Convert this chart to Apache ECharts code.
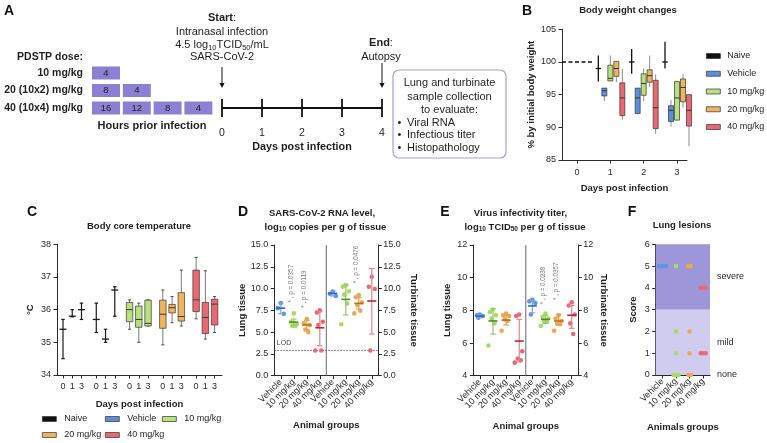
<!DOCTYPE html>
<html>
<head>
<meta charset="utf-8">
<script src="https://cdn.jsdelivr.net/npm/echarts@6.0.0/dist/echarts.min.js"></script>
<style>html,body{margin:0;padding:0;background:#fff;}#chart{width:767px;height:443px;}</style>
</head>
<body>
<div id="chart"></div>
<script>
const FONT = "'Liberation Sans', Arial, Helvetica, sans-serif";
const INK = '#1f1f1f';

// ---------- Panel A (schematic)
const doseLabels = ['10 mg/kg', '20 (10x2) mg/kg', '40 (10x4) mg/kg'];
const doseHours = [[4], [8, 4], [16, 12, 8, 4]];
const timelineDays = [0, 1, 2, 3, 4];
const sampleHeader = ['Lung and turbinate', 'sample collection', 'to evaluate:'];
const sampleItems = ['Viral RNA', 'Infectious titer', 'Histopathology'];

// ---------- Panel B: body weight, [min, q1, median, q3, max]
const groupNames = ['Naive', 'Vehicle', '10 mg/kg', '20 mg/kg', '40 mg/kg'];
const bwDayTicks = [0, 1, 2, 3];
const bwDays = [1, 2, 3];
const bwBaselineDay = 0;
const bwBaseline = 100;
const bwNaive   = [[97, 99, 99, 99, 101], [98.2, 100, 100, 100, 102], [99, 100, 100, 100, 103.1]];
const bwVehicle = [[94, 94.8, 95.6, 96, 96], [92.1, 92.1, 94.5, 96, 96], [90.1, 90.9, 92.6, 93.3, 94.2]];
const bw10      = [[97.1, 97.1, 97.5, 99.5, 101], [94, 94.9, 96.7, 98.2, 99], [91.1, 91.1, 94.5, 97, 97]];
const bw20      = [[96.9, 97.8, 99, 100.1, 100.1], [96.2, 96.9, 97.9, 98.8, 101], [93, 93.9, 96.1, 97.4, 98.2]];
const bw40      = [[91.1, 91.8, 94.5, 96.8, 99], [89, 89.8, 93, 97.2, 98.1], [87.1, 90.2, 92.6, 95, 95]];

// ---------- Panel C: body core temperature, [min, q1, median, q3, max] for days 0,1,3
const ctDays = ['0', '1', '3'];
const ctNaive   = [[34.5, 35.4, 35.4, 35.4, 35.7], [35.78, 35.8, 35.8, 35.82, 36.0], [35.7, 36.0, 36.0, 36.0, 36.2]];
const ctVehicle = [[35.3, 35.7, 35.7, 35.7, 36.2], [35.0, 35.1, 35.1, 35.1, 35.4], [35.8, 36.6, 36.6, 36.6, 36.7]];
const ct10      = [[35.4, 35.63, 36.0, 36.22, 36.3], [35.0, 35.46, 35.7, 36.11, 36.2], [35.5, 35.5, 35.58, 36.29, 36.3]];
const ct20      = [[34.92, 35.43, 35.86, 36.29, 36.6], [35.6, 35.9, 36.06, 36.16, 36.4], [35.5, 35.65, 35.79, 36.52, 37.21]];
const ct40      = [[35.72, 35.94, 36.3, 37.21, 37.6], [35.1, 35.27, 35.76, 36.22, 37.19], [35.3, 35.53, 36.17, 36.32, 36.4]];

// ---------- Panel D: SARS-CoV-2 RNA (lung: first 4, turbinate: last 4)
const tissueCats = ['Vehicle', '10 mg/kg', '20 mg/kg', '40 mg/kg', 'Vehicle', '10 mg/kg', '20 mg/kg', '40 mg/kg'];
const rnaPoints = [[8.35, 7.75, 7.1], [7.15, 6.2, 5.9, 5.7, 5.7], [6.5, 6.0, 5.8, 5.3, 5.0], [7.5, 7.25, 6.2, 5.8, 2.9, 2.9],
                   [9.65, 9.4, 9.15], [10.4, 10.2, 9.7, 9.3, 8.3, 5.9], [9.25, 9.0, 8.4, 8.1, 7.45, 7.15], [11.35, 10.2, 9.95, 2.9]];
const rnaMean = [7.75, 6.15, 5.82, 5.5, 9.45, 8.76, 8.3, 8.57];
const rnaLow  = [7.12, 5.8, 5.3, 3.44, 9.15, 6.97, 7.65, 4.78];
const rnaHigh = [8.38, 6.5, 6.35, 7.35, 9.7, 10.4, 8.95, 12.3];
const rnaLOD = 2.9;
const rnaSigCats = [1, 2, 6];
const rnaSigY = [8.4, 7.8, 10.6];
const rnaSigText = ['* , p = 0.0357', '* , p = 0.0119', '* , p = 0.0476'];

// ---------- Panel E: virus infectivity titer
const titerPoints = [[7.75, 7.7, 7.65, 7.55], [8.05, 7.9, 7.7, 7.5, 7.2, 5.85], [7.8, 7.7, 7.65, 7.45, 7.35, 6.75], [7.75, 7.65, 5.5, 5.05, 4.95, 4.8],
                     [8.65, 8.55, 8.45, 7.75], [7.8, 7.6, 7.5, 7.35, 7.3, 7.05], [7.7, 7.5, 7.35, 7.2, 7.15, 6.75], [8.5, 8.3, 7.75, 7.2, 6.55]];
const titerMean = [7.65, 7.35, 7.4, 6.12, 8.27, 7.45, 7.35, 7.7];
const titerLow  = [7.55, 6.55, 7.1, 4.85, 7.85, 7.2, 7.1, 6.9];
const titerHigh = [7.75, 8.1, 7.7, 7.45, 8.6, 7.7, 7.75, 8.3];
const titerSigCats = [5, 6];
const titerSigY = [8.37, 8.63];
const titerSigText = ['* , p = 0.0238', '* , p = 0.0357'];

// ---------- Panel F: lung lesion score
const lesionCats = ['Vehicle', '10 mg/kg', '20 mg/kg', '40 mg/kg'];
const lesionScores = [[5, 5, 5, 5], [5, 2, 1, 0, 0, 0], [5, 5, 2, 1, 0, 0], [4, 4, 4, 1, 1, 1]];
const lesionBands = [[3, 6], [0, 3]];
const lesionBandTicks = [0, 1.5, 4.5];
const lesionBandLabels = ['none', 'mild', 'severe'];

// ---------- styles
const fillColors = ['#111111', '#5b8fd9', '#b8e07d', '#f1b45e', '#ea6870'];
const dotColors  = ['#5b95e4', '#a9da63', '#f2a74d', '#eb6972'];
const meanColors = ['#2f67c0', '#4c8f22', '#b5711d', '#b3283a'];
const errColors  = ['#7aa6e6', '#98c766', '#dca25e', '#e0858e'];
const bandColors = ['#9d96d9', '#d0ccef'];
const BW_OFF = 6;
const CT_STEP = 3.6;
const JIT = [0, -3, 3, -1.5, 1.5, -4.5, 4.5];

function boxRenderer(offPx, st) {
  return function (params, api) {
    const x = api.value(0);
    const c = (v) => api.coord([x, v]);
    const pMin = c(api.value(1)), pQ1 = c(api.value(2)), pMed = c(api.value(3)), pQ3 = c(api.value(4)), pMax = c(api.value(5));
    const cx = pMin[0] + offPx;
    const ch = [];
    const ws = { stroke: st.whisker, lineWidth: st.wl };
    ch.push({ type: 'line', shape: { x1: cx, y1: pMax[1], x2: cx, y2: pMin[1] }, style: ws });
    if (st.cap) {
      ch.push({ type: 'line', shape: { x1: cx - st.cap / 2, y1: pMax[1], x2: cx + st.cap / 2, y2: pMax[1] }, style: { stroke: st.capColor || st.whisker, lineWidth: st.wl } });
      ch.push({ type: 'line', shape: { x1: cx - st.cap / 2, y1: pMin[1], x2: cx + st.cap / 2, y2: pMin[1] }, style: { stroke: st.capColor || st.whisker, lineWidth: st.wl } });
    }
    if (st.box) {
      ch.push({ type: 'rect', shape: { x: cx - st.bw / 2, y: pQ3[1], width: st.bw, height: Math.max(pQ1[1] - pQ3[1], 0.6) },
        style: { fill: st.fill, stroke: st.stroke, lineWidth: 0.7 } });
    }
    ch.push({ type: 'line', shape: { x1: cx - st.mw / 2, y1: pMed[1], x2: cx + st.mw / 2, y2: pMed[1] }, style: { stroke: st.median, lineWidth: st.ml } });
    return { type: 'group', children: ch };
  };
}

function pointsRenderer() {
  return function (params, api) {
    const c = api.value(0), v = api.value(1), k = api.value(2);
    const p = api.coord([c, v]);
    return { type: 'circle', shape: { cx: p[0] + JIT[k % JIT.length], cy: p[1], r: 2.3 }, style: { fill: dotColors[c % 4] } };
  };
}

function meanErrRenderer() {
  return function (params, api) {
    const c = api.value(0);
    const pm = api.coord([c, api.value(1)]), pl = api.coord([c, api.value(2)]), ph = api.coord([c, api.value(3)]);
    const cx = pm[0];
    const es = { stroke: errColors[c % 4], lineWidth: 1.2 };
    return { type: 'group', children: [
      { type: 'line', shape: { x1: cx, y1: ph[1], x2: cx, y2: pl[1] }, style: es },
      { type: 'line', shape: { x1: cx - 2.8, y1: ph[1], x2: cx + 2.8, y2: ph[1] }, style: es },
      { type: 'line', shape: { x1: cx - 2.8, y1: pl[1], x2: cx + 2.8, y2: pl[1] }, style: es },
      { type: 'line', shape: { x1: cx - 4.5, y1: pm[1], x2: cx + 4.5, y2: pm[1] }, style: { stroke: meanColors[c % 4], lineWidth: 1.6 } }
    ] };
  };
}

function sigRenderer(texts) {
  return function (params, api) {
    const p = api.coord([api.value(0), api.value(1)]);
    return { type: 'text', x: p[0] - 2.5, y: p[1], rotation: Math.PI / 2,
      style: { text: texts[params.dataIndex], fontSize: 6.3, fontFamily: FONT, fill: '#7c7c7c',
        align: 'left', textAlign: 'left', verticalAlign: 'middle', textVerticalAlign: 'middle' } };
  };
}

function dividerRenderer(params, api) {
  const cs = params.coordSys;
  const x = cs.x + cs.width / 2;
  return { type: 'line', shape: { x1: x, y1: cs.y, x2: x, y2: cs.y + cs.height }, style: { stroke: '#6a6a6a', lineWidth: 1 } };
}

// ---------- series
const series = [];

series.push({ type: 'custom', xAxisIndex: 0, yAxisIndex: 0, silent: true, data: [[bwBaselineDay, bwBaseline]],
  renderItem: (p, api) => {
    const a = api.coord([api.value(0) - 0.45, api.value(1)]), b = api.coord([api.value(0) + 0.45, api.value(1)]);
    return { type: 'line', shape: { x1: a[0], y1: a[1], x2: b[0], y2: b[1] }, style: { stroke: '#111', lineWidth: 1.3, lineDash: [4, 2.5] } };
  } });

const naiveB = { whisker: '#111', wl: 1.3, mw: 5.5, median: '#111', ml: 1.3, box: false };
const boxB = { whisker: '#8e8e8e', wl: 1, bw: 5, stroke: '#333', mw: 5, median: '#333', ml: 1, box: true };
[bwNaive, bwVehicle, bw10, bw20, bw40].forEach((set, gi) => {
  series.push({ type: 'custom', name: groupNames[gi], xAxisIndex: 0, yAxisIndex: 0, itemStyle: { color: fillColors[gi] },
    data: set.map((s, k) => [bwDays[k]].concat(s)), encode: { x: 0, y: [1, 2, 3, 4, 5] },
    renderItem: boxRenderer((gi - 2) * BW_OFF, gi === 0 ? naiveB : Object.assign({}, boxB, { fill: fillColors[gi] })) });
});

const naiveC = { whisker: '#1a1a1a', wl: 1.2, cap: 3.5, mw: 7, median: '#1a1a1a', ml: 1.3, box: false };
const boxC = { whisker: '#7a7a7a', capColor: '#444', wl: 1, cap: 3, bw: 6.5, stroke: '#3a3a3a', mw: 6.5, median: '#3a3a3a', ml: 1, box: true };
[ctNaive, ctVehicle, ct10, ct20, ct40].forEach((set, gi) => {
  series.push({ type: 'custom', name: groupNames[gi], xAxisIndex: 1, yAxisIndex: 1, itemStyle: { color: fillColors[gi] },
    data: set.map((s, k) => [gi * CT_STEP + k].concat(s)), encode: { x: 0, y: [1, 2, 3, 4, 5] },
    renderItem: boxRenderer(0, gi < 2 ? naiveC : Object.assign({}, boxC, { fill: fillColors[gi] })) });
});

// D
series.push({ type: 'custom', xAxisIndex: 2, yAxisIndex: 2, silent: true, data: [[0, 0]], renderItem: dividerRenderer });
series.push({ type: 'custom', xAxisIndex: 2, yAxisIndex: 2, silent: true, data: [[0, rnaLOD]],
  renderItem: (params, api) => {
    const cs = params.coordSys; const y = api.coord([0, api.value(1)])[1];
    return { type: 'group', children: [
      { type: 'line', shape: { x1: cs.x, y1: y, x2: cs.x + cs.width, y2: y }, style: { stroke: '#555', lineWidth: 0.9, lineDash: [1.5, 1.5] } },
      { type: 'text', x: cs.x + 2.5, y: y - 4, style: { text: 'LOD', fontSize: 7, fontFamily: FONT, fill: '#444', align: 'left', textAlign: 'left', verticalAlign: 'bottom', textVerticalAlign: 'bottom' } }
    ] };
  } });
series.push({ type: 'custom', xAxisIndex: 2, yAxisIndex: 2, data: rnaPoints.flatMap((arr, c) => arr.map((v, k) => [c, v, k])), encode: { x: 0, y: 1 }, renderItem: pointsRenderer() });
series.push({ type: 'custom', xAxisIndex: 2, yAxisIndex: 2, data: rnaMean.map((m, c) => [c, m, rnaLow[c], rnaHigh[c]]), encode: { x: 0, y: [1, 2, 3] }, renderItem: meanErrRenderer() });
series.push({ type: 'custom', xAxisIndex: 2, yAxisIndex: 2, silent: true, data: rnaSigCats.map((c, i) => [c, rnaSigY[i]]), renderItem: sigRenderer(rnaSigText) });

// E
series.push({ type: 'custom', xAxisIndex: 3, yAxisIndex: 4, silent: true, data: [[0, 4]], renderItem: dividerRenderer });
series.push({ type: 'custom', xAxisIndex: 3, yAxisIndex: 4, data: titerPoints.flatMap((arr, c) => arr.map((v, k) => [c, v, k])), encode: { x: 0, y: 1 }, renderItem: pointsRenderer() });
series.push({ type: 'custom', xAxisIndex: 3, yAxisIndex: 4, data: titerMean.map((m, c) => [c, m, titerLow[c], titerHigh[c]]), encode: { x: 0, y: [1, 2, 3] }, renderItem: meanErrRenderer() });
series.push({ type: 'custom', xAxisIndex: 3, yAxisIndex: 4, silent: true, data: titerSigCats.map((c, i) => [c, titerSigY[i]]), renderItem: sigRenderer(titerSigText) });

// F
series.push({ type: 'custom', xAxisIndex: 4, yAxisIndex: 6, silent: true, data: lesionBands.map(b => [b[0], b[1]]),
  renderItem: (params, api) => {
    const cs = params.coordSys;
    const top = api.coord([0, api.value(1)])[1], bot = api.coord([0, api.value(0)])[1];
    return { type: 'rect', shape: { x: cs.x, y: top, width: cs.width, height: bot - top }, style: { fill: bandColors[params.dataIndex] } };
  } });
const lesionData = [];
lesionScores.forEach((arr, c) => {
  const counts = {}; arr.forEach(v => { counts[v] = (counts[v] || 0) + 1; });
  const seen = {};
  arr.forEach(v => { const k = seen[v] || 0; seen[v] = k + 1; lesionData.push([c, v, k, counts[v]]); });
});
series.push({ type: 'custom', xAxisIndex: 4, yAxisIndex: 6, data: lesionData, encode: { x: 0, y: 1 },
  renderItem: (params, api) => {
    const c = api.value(0), k = api.value(2), n = api.value(3);
    const p = api.coord([c, api.value(1)]);
    return { type: 'circle', shape: { cx: p[0] + (k - (n - 1) / 2) * 2.4, cy: p[1], r: 2.3 }, style: { fill: dotColors[c] } };
  } });

// ---------- axes
const aLine = { show: true, onZero: false, lineStyle: { color: '#2a2a2a', width: 1 } };
const aTick = { show: true, length: 3.5, lineStyle: { color: '#2a2a2a', width: 1 } };
const aLabel = { color: '#2a2a2a', fontSize: 9, fontFamily: FONT };
const nameStyle = { color: INK, fontSize: 9.5, fontWeight: 'bold', fontFamily: FONT };
const noSplit = { show: false };
const ctTickVals = [];
for (let g = 0; g < 5; g++) for (let k = 0; k < 3; k++) ctTickVals.push(+(g * CT_STEP + k).toFixed(2));
const idx8 = [0, 1, 2, 3, 4, 5, 6, 7], idx4 = [0, 1, 2, 3];

const xAxis = [
  { type: 'value', gridIndex: 0, min: -0.45, max: 3.3, axisLine: aLine, splitLine: noSplit,
    axisTick: Object.assign({}, aTick, { customValues: bwDayTicks }),
    axisLabel: Object.assign({}, aLabel, { customValues: bwDayTicks, margin: 8 }),
    name: 'Days post infection', nameLocation: 'middle', nameGap: 23, nameTextStyle: nameStyle },
  { type: 'value', gridIndex: 1, min: -0.65, max: 17.2, axisLine: aLine, splitLine: noSplit,
    axisTick: Object.assign({}, aTick, { customValues: ctTickVals }),
    axisLabel: Object.assign({}, aLabel, { customValues: ctTickVals, margin: 7,
      formatter: (v) => ctDays[Math.round(v - Math.floor((v + 0.5) / CT_STEP) * CT_STEP)] }),
    name: 'Days post infection', nameLocation: 'middle', nameGap: 24, nameTextStyle: nameStyle },
  { type: 'value', gridIndex: 2, min: -0.5, max: 7.5, axisLine: aLine, splitLine: noSplit,
    axisTick: Object.assign({}, aTick, { customValues: idx8 }),
    axisLabel: Object.assign({}, aLabel, { customValues: idx8, rotate: 45, margin: 5, formatter: (v) => tissueCats[Math.round(v)] }),
    name: 'Animal groups', nameLocation: 'middle', nameGap: 45, nameTextStyle: nameStyle },
  { type: 'value', gridIndex: 3, min: -0.5, max: 7.5, axisLine: aLine, splitLine: noSplit,
    axisTick: Object.assign({}, aTick, { customValues: idx8 }),
    axisLabel: Object.assign({}, aLabel, { customValues: idx8, rotate: 45, margin: 5, formatter: (v) => tissueCats[Math.round(v)] }),
    name: 'Animal groups', nameLocation: 'middle', nameGap: 46, nameTextStyle: nameStyle },
  { type: 'value', gridIndex: 4, min: -0.5, max: 3.5, axisLine: aLine, splitLine: noSplit,
    axisTick: Object.assign({}, aTick, { customValues: idx4 }),
    axisLabel: Object.assign({}, aLabel, { customValues: idx4, rotate: 45, margin: 5, formatter: (v) => lesionCats[Math.round(v)] }),
    name: 'Animals groups', nameLocation: 'middle', nameGap: 47, nameTextStyle: nameStyle }
];

function yAx(o) {
  return Object.assign({ type: 'value', axisLine: aLine, axisTick: aTick, splitLine: noSplit,
    axisLabel: Object.assign({}, aLabel, { margin: 6 }), nameLocation: 'middle', nameTextStyle: nameStyle }, o);
}
const yAxis = [
  yAx({ gridIndex: 0, min: 85, max: 105, interval: 5, name: '% by initial body weight', nameGap: 26 }),
  yAx({ gridIndex: 1, min: 34, max: 38, interval: 1, name: '°C', nameGap: 22 }),
  yAx({ gridIndex: 2, min: 0, max: 15, interval: 2.5, name: 'Lung tissue', nameGap: 27,
    axisLabel: Object.assign({}, aLabel, { margin: 6, formatter: (v) => v.toFixed(1) }) }),
  yAx({ gridIndex: 2, position: 'right', min: 0, max: 15, interval: 2.5, name: 'Turbinate tissue', nameGap: 30, nameRotate: -90,
    axisLabel: Object.assign({}, aLabel, { margin: 5, formatter: (v) => v.toFixed(1) }) }),
  yAx({ gridIndex: 3, min: 4, max: 12, interval: 2, name: 'Lung tissue', nameGap: 21 }),
  yAx({ gridIndex: 3, position: 'right', min: 4, max: 12, interval: 2, name: 'Turbinate tissue', nameGap: 20, nameRotate: -90,
    axisLabel: Object.assign({}, aLabel, { margin: 5 }) }),
  yAx({ gridIndex: 4, min: 0, max: 6, interval: 1, name: 'Score', nameGap: 17 }),
  yAx({ gridIndex: 4, position: 'right', min: 0, max: 6, axisLine: { show: false, onZero: false }, axisTick: { show: false },
    axisLabel: Object.assign({}, aLabel, { margin: 7, customValues: lesionBandTicks, formatter: (v) => lesionBandLabels[lesionBandTicks.indexOf(v)] }) })
];

const gridBase = { containLabel: false, outerBoundsMode: 'none', show: false };
const grid = [
  Object.assign({ left: 562, top: 29.3, width: 125, height: 130.7 }, gridBase),
  Object.assign({ left: 57, top: 244.3, width: 165, height: 130.7 }, gridBase),
  Object.assign({ left: 274.3, top: 245, width: 104, height: 130.7 }, gridBase),
  Object.assign({ left: 473.3, top: 245, width: 105, height: 130.7 }, gridBase),
  Object.assign({ left: 655.7, top: 244.3, width: 54.3, height: 130.7 }, gridBase)
];

// ---------- legends
const legBase = { icon: 'rect', itemWidth: 14, itemHeight: 5, selectedMode: false,
  itemStyle: { borderColor: '#333', borderWidth: 0.7 }, textStyle: { fontSize: 9, fontFamily: FONT, color: INK, lineHeight: 11, padding: [0, 0, 0, 2] }, padding: 0 };
const legend = [
  Object.assign({}, legBase, { orient: 'vertical', left: 706, top: 50.5, itemGap: 6.75, data: groupNames })
];
[[42, 413.5, 0], [105, 413.5, 1], [162, 413.5, 2], [42, 429.5, 3], [105, 429.5, 4]].forEach(([l, t, gi]) => {
  legend.push(Object.assign({}, legBase, { left: l, top: t, data: [groupNames[gi]],
    textStyle: Object.assign({}, legBase.textStyle, { padding: [0, 0, 0, 3] }) }));
});

// ---------- graphic (panel A schematic, panel letters, titles)
function txt(x, y, text, o) {
  o = o || {};
  const st = { text, fontFamily: FONT, fontSize: o.fs || 10, fontWeight: o.fw || 'normal', fill: o.fill || INK,
    align: o.align || 'center', textAlign: o.align || 'center', verticalAlign: 'middle', textVerticalAlign: 'middle' };
  if (o.rich) st.rich = o.rich;
  return { type: 'text', x, y, silent: true, z: 20, style: st };
}
const G = [];
['A', 'B', 'C', 'D', 'E', 'F'].forEach((L, i) => {
  const pos = [[9, 11.5], [527, 11.5], [32, 212], [243, 212], [445, 212], [632, 212]][i];
  G.push(txt(pos[0], pos[1], L, { fs: 14, fw: 'bold', fill: '#111' }));
});
const subRich = (fs, lh, sfs, bold) => ({
  n: { fontSize: fs, fontWeight: bold ? 'bold' : 'normal', fontFamily: FONT, fill: INK, lineHeight: lh, verticalAlign: 'middle' },
  s: { fontSize: sfs, fontWeight: bold ? 'bold' : 'normal', fontFamily: FONT, fill: INK, lineHeight: sfs + 0.5, verticalAlign: 'bottom' },
  b: { fontSize: fs, fontWeight: 'bold', fontFamily: FONT, fill: INK, lineHeight: lh, verticalAlign: 'middle' }
});
// titles
G.push(txt(628, 10, 'Body weight changes', { fs: 9.5, fw: 'bold' }));
G.push(txt(139, 226, 'Body core temperature', { fs: 9.5, fw: 'bold' }));
G.push(txt(322, 213, 'SARS-CoV-2 RNA level,', { fs: 9.5, fw: 'bold' }));
G.push(txt(325.5, 227, '{n|log}{s|10}{n| copies per g of tissue}', { rich: subRich(9.5, 12, 6.5, true) }));
G.push(txt(520.5, 213, 'Virus infectivity titer,', { fs: 9.5, fw: 'bold' }));
G.push(txt(525, 227, '{n|log}{s|10}{n| TCID}{s|50}{n| per g of tissue}', { rich: subRich(9.5, 12, 6.5, true) }));
G.push(txt(682, 225, 'Lung lesions', { fs: 9.5, fw: 'bold' }));

// panel A
const purple = '#8b80d3';
const cellX0 = 92, cellW = 28, cellGap = 2.8, cellH = 13, rowY = [73, 90.5, 108];
G.push(txt(83, 57, 'PDSTP dose:', { fs: 10.5, fw: 'bold', align: 'right' }));
doseLabels.forEach((lab, r) => {
  G.push(txt(83, rowY[r], lab, { fs: 10.5, fw: 'bold', align: 'right' }));
  doseHours[r].forEach((h, k) => {
    const x = cellX0 + k * (cellW + cellGap);
    G.push({ type: 'rect', silent: true, z: 10, shape: { x, y: rowY[r] - cellH / 2, width: cellW, height: cellH }, style: { fill: purple } });
    G.push(txt(x + cellW / 2, rowY[r], String(h), { fs: 9.5, fill: '#222' }));
  });
});
G.push(txt(152, 126, 'Hours prior infection', { fs: 11, fw: 'bold' }));
const tlX0 = 222, tlStep = 40, tlY = 108;
G.push({ type: 'line', silent: true, z: 10, shape: { x1: tlX0, y1: tlY, x2: tlX0 + tlStep * (timelineDays.length - 1), y2: tlY }, style: { stroke: '#111', lineWidth: 1.8 } });
timelineDays.forEach((d, i) => {
  const x = tlX0 + tlStep * i;
  G.push({ type: 'line', silent: true, z: 10, shape: { x1: x, y1: tlY - 9, x2: x, y2: tlY + 9 }, style: { stroke: '#111', lineWidth: 1.8 } });
  G.push(txt(x, 133, String(d), { fs: 10.5 }));
});
G.push(txt(302, 147, 'Days post infection', { fs: 10.8, fw: 'bold' }));
function arrow(x, y1, y2) {
  G.push({ type: 'line', silent: true, z: 10, shape: { x1: x, y1, x2: x, y2: y2 - 4 }, style: { stroke: '#111', lineWidth: 1 } });
  G.push({ type: 'polygon', silent: true, z: 10, shape: { points: [[x - 2.6, y2 - 5], [x + 2.6, y2 - 5], [x, y2]] }, style: { fill: '#111' } });
}
arrow(tlX0, 67, 88);
arrow(tlX0 + tlStep * 4, 63, 88);
G.push(txt(222, 18, '{b|Start}{n|:}', { rich: subRich(11, 13, 7.5, false) }));
G.push(txt(222, 32, 'Intranasal infection', { fs: 11 }));
G.push(txt(222, 45, '{n|4.5 log}{s|10}{n|TCID}{s|50}{n|/mL}', { rich: subRich(11, 13, 7.5, false) }));
G.push(txt(222, 57, 'SARS-CoV-2', { fs: 11 }));
G.push(txt(381, 43, '{b|End}{n|:}', { rich: subRich(11, 13, 7.5, false) }));
G.push(txt(381, 57, 'Autopsy', { fs: 11 }));
G.push({ type: 'rect', silent: true, z: 10, shape: { x: 393, y: 70, width: 113, height: 88, r: 6 }, style: { fill: 'none', stroke: '#a89fe2', lineWidth: 1.2 } });
sampleHeader.forEach((s, i) => G.push(txt(449.5, 83 + i * 13.5, s, { fs: 11 })));
sampleItems.forEach((s, i) => {
  G.push(txt(399.5, 123 + i * 12.3, '•', { fs: 11 }));
  G.push(txt(407, 123 + i * 12.3, s, { fs: 11, align: 'left' }));
});

const chart = echarts.init(document.getElementById('chart'), null, { renderer: 'canvas', width: 767, height: 443 });
chart.setOption({
  animation: false,
  backgroundColor: '#fff',
  textStyle: { fontFamily: FONT },
  grid, xAxis, yAxis, legend, series,
  graphic: { elements: G }
});
</script>
</body>
</html>
